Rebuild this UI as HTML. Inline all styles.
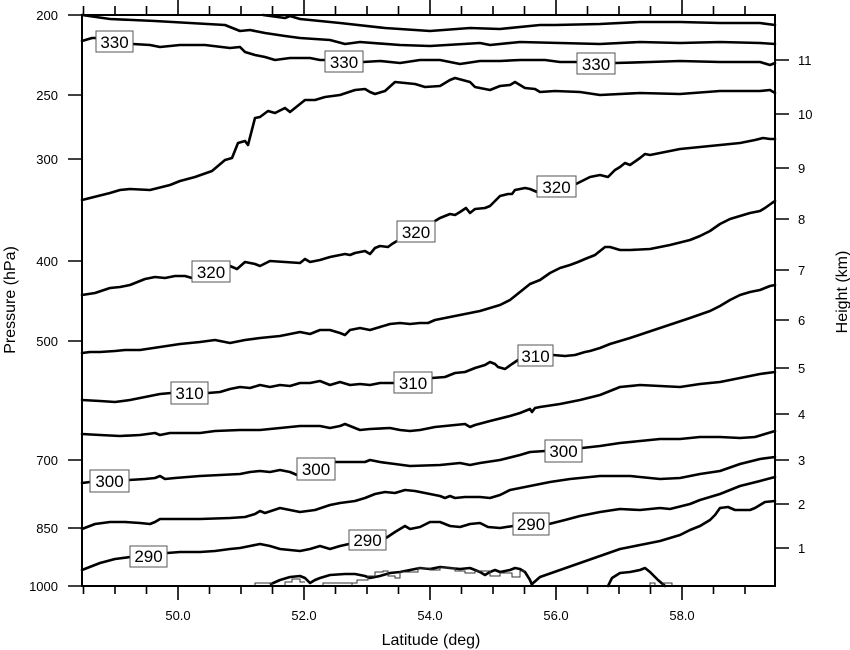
<!DOCTYPE html>
<html><head><meta charset="utf-8"><style>
html,body{margin:0;padding:0;background:#fff;}
svg{display:block;font-family:"Liberation Sans",Arial,sans-serif;}
</style></head><body>
<svg width="850" height="650" viewBox="0 0 850 650" xmlns="http://www.w3.org/2000/svg">
<rect width="850" height="650" fill="#fff"/>
<g fill="none" stroke="#000" stroke-width="2.6" stroke-linejoin="round" stroke-linecap="round">
<!-- L0 -->
<polyline points="263,15 285,18 290,16 300,19 340,23 385,28 430,31 470,28 500,29 540,25 555,25 600,24 640,22 680,22 720,23 760,23 775,25"/>
<!-- L1 -->
<polyline points="82,15 110,19 155,21 225,25 240,31 250,30 265,33 285,36 300,38 330,40 345,44 360,42 400,45 430,46 480,43 490,45 520,42 560,43 600,44 640,42 680,43 720,42 760,43 775,44"/>
<!-- L3 330 -->
<polyline points="82,41 92,38 96,38"/>
<polyline points="133,44 150,45 160,47 180,45 205,45 230,48 240,47 245,52 255,55 265,57 275,60 290,58 310,58 320,60 325,60"/>
<polyline points="363,62 380,61 400,63 420,60 440,60 460,64 480,61 500,61 520,60 545,60 560,62 577,62"/>
<polyline points="615,63 650,62 680,61 720,62 760,62 770,65 775,63"/>
<!-- L4 -->
<polyline points="82,200 110,193 120,190 130,189 150,190 170,185 180,181 195,177 212,171 225,160 232,158 238,143 245,141 248,145 255,118 260,117 268,111 275,113 285,108 290,112 305,100 315,100 325,97 340,95 355,90 365,89 370,92 375,94 385,91 395,82 415,84 425,87 440,86 450,80 455,78 470,82 475,87 480,88 490,90 500,86 510,85 515,82 525,88 535,89 540,92 555,91 580,92 600,95 640,93 680,94 720,91 760,91 770,90 775,93"/>
<!-- L5 320 -->
<polyline points="82,295 95,293 110,288 120,287 130,285 145,279 155,277 165,278 175,276 185,276 192,278"/>
<polyline points="230,266 237,269 245,262 255,264 260,266 270,261 285,262 300,263 305,259 310,262 320,260 330,257 345,254 350,255 355,253 365,251 370,254 375,248 380,246 388,247 392,244 397,241"/>
<polyline points="435,221 440,218 445,216 450,214 455,215 460,212 466,208 470,213 475,209 485,208 490,206 495,201 500,196 508,194 512,194 515,190 525,188 530,189 537,192"/>
<polyline points="576,184 590,177 600,175 608,177 615,170 620,167 625,163 630,165 640,158 645,154 650,155 665,152 680,149 700,147 720,145 740,143 755,140 763,138 770,139 775,139"/>
<!-- L6 -->
<polyline points="82,353 90,352 100,352 115,351 125,350 140,350 160,347 180,344 200,342 215,340 230,343 245,340 260,338 280,336 300,332 310,334 320,330 330,330 340,333 345,335 350,330 360,328 370,330 380,327 390,324 400,323 410,324 420,323 428,323 435,320 445,318 455,316 465,314 480,311 490,308 500,305 510,300 520,292 530,284 540,280 550,273 560,268 570,265 578,262 585,259 590,257 595,255 600,251 605,247 610,247 620,250 630,250 650,249 670,245 690,240 700,236 710,231 720,224 730,219 740,216 750,213 760,211 765,208 772,203 775,201"/>
<!-- L7 310 -->
<polyline points="82,400 100,401 115,402 130,400 145,397 160,394 171,393"/>
<polyline points="208,393 220,392 230,389 240,387 250,388 260,385 270,387 280,385 290,386 300,383 310,383 320,381 330,385 340,382 350,385 360,384 370,385 380,383 394,383"/>
<polyline points="432,378 445,377 455,373 465,372 475,368 485,365 490,362 495,364 498,367 505,369 512,364 518,360"/>
<polyline points="553,355 565,356 575,355 585,352 590,351 600,348 610,344 620,341 630,338 645,333 660,328 675,323 690,318 710,311 720,306 730,300 740,295 750,292 760,290 770,286 775,285"/>
<!-- L8 -->
<polyline points="82,434 100,435 120,436 140,435 155,433 160,435 170,433 200,433 215,431 240,430 260,430 280,428 300,426 320,426 330,428 340,426 345,424 350,426 360,430 370,429 390,428 400,430 410,431 420,430 435,427 445,426 465,424 470,427 475,425 490,421 510,416 520,413 525,411 530,409 532,412 535,408 540,407 560,404 580,400 600,395 620,387 640,385 660,386 680,387 700,384 720,382 740,378 760,374 775,372"/>
<!-- L9 300 -->
<polyline points="82,483 90,482"/>
<polyline points="129,480 145,479 155,478 160,476 165,479 175,478 200,476 220,475 240,474 250,472 260,471 270,472 280,470 290,472 297,475"/>
<polyline points="335,462 350,462 365,462 370,460 380,462 395,464 410,466 440,465 460,463 470,465 480,463 500,460 520,455 530,452 545,451"/>
<polyline points="582,448 600,446 620,443 640,441 660,439 680,439 700,437 720,437 740,438 755,437 765,434 775,431"/>
<!-- L10 -->
<polyline points="82,529 95,524 110,522 125,522 140,523 150,524 155,522 160,519 180,519 200,519 230,518 245,517 255,514 260,511 265,513 280,508 290,510 300,512 315,510 330,505 340,503 355,501 365,498 375,494 385,492 395,493 405,490 415,491 430,494 440,496 445,498 450,496 455,498 465,497 480,497 490,498 500,495 510,490 530,486 550,482 570,479 600,476 630,476 650,478 660,479 680,478 700,474 720,471 740,464 760,459 775,457"/>
<!-- L11 290 -->
<polyline points="82,570 100,563 115,559 130,557"/>
<polyline points="167,553 180,552 200,552 215,551 230,549 240,548 250,546 260,544 270,546 280,549 290,550 300,551 310,549 320,546 330,549 340,546 349,544"/>
<polyline points="386,538 395,532 405,526 410,529 420,527 430,522 440,522 450,526 460,527 470,524 480,523 488,527 500,528 513,526"/>
<polyline points="549,524 565,520 580,516 600,512 620,509 640,510 660,508 670,509 690,504 700,500 720,494 740,486 760,481 775,477"/>
<!-- L12 -->
<polyline points="532,584 540,577 560,570 580,563 600,556 620,549 640,545 660,541 670,538 680,535 690,530 700,526 710,520 715,515 720,508 728,507 735,510 750,510 755,508 760,505 765,502 775,501"/>
<!-- terrain contour -->
<polyline points="271,584 280,580 290,577 300,576 305,578 310,583 315,580 320,578 330,575 345,574 355,574 365,576 370,578 380,576 390,573 400,572 410,570 420,568 430,569 440,567 450,568 460,569 470,568 480,572 485,575 490,572 495,570 500,572 505,571 510,570 515,568 520,569 525,572 530,580 532,585"/>
<polyline points="608,586 612,578 620,573 630,572 640,570 645,568 650,572 658,580 665,586"/>
</g>
<path d="M255 586 V583 H272 V586 M285 586 V582 H292 V579 H300 V582 H305 M323 586 V583 H352 V586 M352 583 H357 V580 H368 V576 H375 V572 H383 V571 H388 V576 H395 V578 H400 V572 H418 V568 H430 V570 H440 V568 H455 V571 H465 V573 H475 V571 H490 V576 H500 V573 H512 V577 H520 V571 H525 M650 586 V583 H655 V586 M663 586 V583 H672 V586" fill="none" stroke="#333" stroke-width="1"/>
<!-- labels -->
<g font-size="17" text-anchor="middle">
<g fill="#fff" stroke="#555" stroke-width="1">
<rect x="96" y="31" width="37" height="21"/>
<rect x="325" y="51" width="38" height="21"/>
<rect x="577" y="53" width="38" height="21"/>
<rect x="537" y="176" width="39" height="21"/>
<rect x="397" y="221" width="38" height="21"/>
<rect x="192" y="261" width="38" height="21"/>
<rect x="518" y="345" width="35" height="21"/>
<rect x="394" y="372" width="38" height="21"/>
<rect x="171" y="382" width="37" height="22"/>
<rect x="545" y="440" width="37" height="22"/>
<rect x="297" y="458" width="38" height="22"/>
<rect x="90" y="470" width="39" height="22"/>
<rect x="513" y="513" width="36" height="22"/>
<rect x="349" y="530" width="37" height="20"/>
<rect x="130" y="546" width="37" height="21"/>
</g>
<text x="114.5" y="48">330</text>
<text x="344" y="68">330</text>
<text x="596" y="70">330</text>
<text x="556.5" y="193">320</text>
<text x="416" y="238">320</text>
<text x="211" y="278">320</text>
<text x="535.5" y="362">310</text>
<text x="413" y="389">310</text>
<text x="189.5" y="399">310</text>
<text x="563.5" y="457">300</text>
<text x="316" y="475">300</text>
<text x="109.5" y="487">300</text>
<text x="531" y="530">290</text>
<text x="367.5" y="546">290</text>
<text x="148.5" y="562">290</text>
</g>
<!-- frame -->
<rect x="82" y="15" width="693" height="571" fill="none" stroke="#000" stroke-width="2"/>
<g stroke="#000" stroke-width="1.6">
<!-- left ticks -->
<path d="M68 15H82M68 95H82M68 159H82M68 261H82M68 341H82M68 460H82M68 528H82M68 586H82"/>
<!-- right ticks -->
<path d="M775 60H789M775 114H789M775 168H789M775 219H789M775 270H789M775 320H789M775 368H789M775 414H789M775 460H789M775 504H789M775 548H789"/>
<!-- bottom/top ticks -->
<path d="M83.5 586V594M115 586V594M146.5 586V594M178 586V600M209.5 586V594M241 586V594M272.5 586V594M304 586V600M335.5 586V594M367 586V594M398.5 586V594M430 586V600M461.5 586V594M493 586V594M524.5 586V594M556 586V600M587.5 586V594M619 586V594M650.5 586V594M682 586V600M713.5 586V594M745 586V594"/>
<path d="M83.5 15V6M115 15V6M146.5 15V6M178 15V0M209.5 15V6M241 15V6M272.5 15V6M304 15V0M335.5 15V6M367 15V6M398.5 15V6M430 15V0M461.5 15V6M493 15V6M524.5 15V6M556 15V0M587.5 15V6M619 15V6M650.5 15V6M682 15V0M713.5 15V6M745 15V6"/>
</g>
<g font-size="13" fill="#000">
<g text-anchor="end">
<text x="58" y="20">200</text><text x="58" y="100">250</text><text x="58" y="164">300</text><text x="58" y="266">400</text><text x="58" y="346">500</text><text x="58" y="465">700</text><text x="58" y="533">850</text><text x="58" y="591">1000</text>
</g>
<g text-anchor="start">
<text x="798" y="65">11</text><text x="798" y="119">10</text><text x="798" y="173">9</text><text x="798" y="224">8</text><text x="798" y="275">7</text><text x="798" y="325">6</text><text x="798" y="373">5</text><text x="798" y="419">4</text><text x="798" y="465">3</text><text x="798" y="509">2</text><text x="798" y="553">1</text>
</g>
<g text-anchor="middle">
<text x="178" y="620">50.0</text><text x="304" y="620">52.0</text><text x="430" y="620">54.0</text><text x="556" y="620">56.0</text><text x="682" y="620">58.0</text>
</g>
</g>
<g font-size="16" text-anchor="middle" fill="#000">
<text x="431" y="645">Latitude (deg)</text>
<text transform="translate(15,300) rotate(-90)">Pressure (hPa)</text>
<text transform="translate(847,292) rotate(-90)">Height (km)</text>
</g>
</svg>
</body></html>
